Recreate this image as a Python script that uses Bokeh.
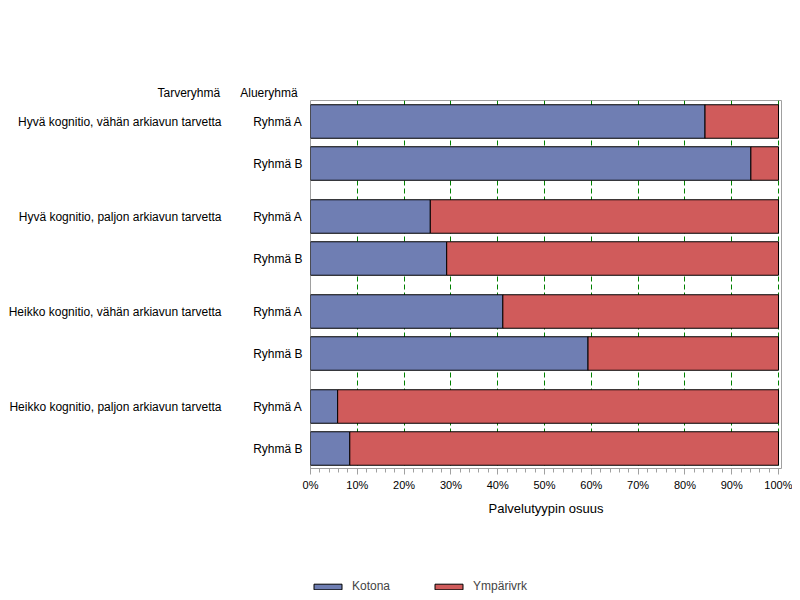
from bokeh.plotting import figure
from bokeh.layouts import column
from bokeh.models import (Range1d, FixedTicker, PrintfTickFormatter, LinearAxis, Title,
                          ColumnDataSource, Legend, LegendItem)
from bokeh.embed import file_html
from bokeh.resources import INLINE

# ---- data ----
tarveryhma = ["Hyvä kognitio, vähän arkiavun tarvetta",
              "Hyvä kognitio, paljon arkiavun tarvetta",
              "Heikko kognitio, vähän arkiavun tarvetta",
              "Heikko kognitio, paljon arkiavun tarvetta"]
alueryhma = ["Ryhmä A", "Ryhmä B"]
kotona = [84.3, 94.1, 25.6, 29.1, 41.1, 59.3, 5.8, 8.4]
ymparivrk = [15.7, 5.9, 74.4, 70.9, 58.9, 40.7, 94.2, 91.6]
series = ["Kotona", "Ympärivrk"]
x_ticks = [0, 10, 20, 30, 40, 50, 60, 70, 80, 90, 100]
x_label = "Palvelutyypin osuus"
header_tarve = "Tarveryhmä"
header_alue = "Alueryhmä"

# ---- layout constants ----
FONT = "Liberation Sans"
BLUE = "#6F7EB3"
RED = "#D05B5B"
COLORS = [BLUE, RED]
GRAY = "#A0A0A0"
FRAME_H = 368
GROUP_STEP = 95
SUB_STEP = 42
FIRST = 21
BAR_H = 33.5

ys, alue_over, tarve_over = [], {}, {}
for g, t in enumerate(tarveryhma):
    for i, a in enumerate(alueryhma):
        y = FIRST + g * GROUP_STEP + i * SUB_STEP
        ys.append(y)
        alue_over[y] = a
        if i == 0:
            tarve_over[y] = t

source = ColumnDataSource(dict(y=ys, Kotona=kotona, Ympärivrk=ymparivrk))

p = figure(width=792, height=530, output_backend="svg", toolbar_location=None,
           frame_width=471, frame_height=FRAME_H,
           min_border_left=310, min_border_right=11, min_border_top=100, min_border_bottom=62,
           x_range=Range1d(0, 100 * 471 / 468), y_range=Range1d(FRAME_H, 0))
p.outline_line_color = GRAY
p.background_fill_color = "white"
p.border_fill_color = "white"

p.hbar_stack(series, y="y", height=BAR_H, source=source,
             fill_color=COLORS, line_color="black", line_width=1)

# x axis
xa = p.xaxis[0]
xa.ticker = FixedTicker(ticks=x_ticks, minor_ticks=list(range(0, 101, 2)))
xa.formatter = PrintfTickFormatter(format="%d%%")
xa.bounds = (0, 100)
xa.axis_line_color = GRAY
xa.major_tick_line_color = GRAY
xa.minor_tick_line_color = GRAY
xa.major_tick_out = 6
xa.major_tick_in = 0
xa.minor_tick_out = 4
xa.minor_tick_in = 0
xa.major_label_text_font = FONT
xa.major_label_text_font_size = "11px"
xa.major_label_text_color = "black"
xa.major_label_standoff = 4
xa.axis_label = x_label
xa.axis_label_text_font = FONT
xa.axis_label_text_font_size = "13px"
xa.axis_label_text_font_style = "normal"
xa.axis_label_text_color = "black"
xa.axis_label_standoff = 7


def style_y(ax, standoff):
    ax.axis_line_color = None
    ax.major_tick_line_color = None
    ax.minor_tick_line_color = None
    ax.major_tick_out = 0
    ax.major_tick_in = 0
    ax.minor_tick_out = 0
    ax.minor_tick_in = 0
    ax.major_label_standoff = standoff
    ax.major_label_text_font = FONT
    ax.major_label_text_font_size = "12px"
    ax.major_label_text_color = "black"


ya = p.yaxis[0]
ya.ticker = FixedTicker(ticks=list(alue_over.keys()), minor_ticks=[])
ya.major_label_overrides = alue_over
style_y(ya, 8)

ya2 = LinearAxis(ticker=FixedTicker(ticks=list(tarve_over.keys()), minor_ticks=[]),
                 major_label_overrides=tarve_over)
style_y(ya2, 29)
p.add_layout(ya2, "left")

p.ygrid.visible = False
p.xgrid.ticker = FixedTicker(ticks=x_ticks[1:])
p.xgrid.grid_line_color = "green"
p.xgrid.grid_line_dash = "5 3"
p.xgrid.grid_line_width = 1

# column headers
p.add_layout(Title(text=header_tarve + "\u2007\u2007\u2007" + header_alue, align="left",
                   offset=-153, standoff=2, text_font=FONT, text_font_size="12px",
                   text_font_style="normal", text_color="black"), "above")

# ---- legend strip below the chart ----
lg = figure(width=792, height=66, output_backend="svg", toolbar_location=None,
            min_border_left=0, min_border_right=0, min_border_top=0, min_border_bottom=0,
            x_range=Range1d(0, 1), y_range=Range1d(0, 1))
lg.axis.visible = False
lg.grid.visible = False
lg.outline_line_color = None
lg.border_fill_color = "white"
items = []
for s, c in zip(series, COLORS):
    # off-range placeholder bar, only used to draw the legend swatch
    r = lg.hbar(y=[-10], right=[1], height=1, fill_color=c, line_color="black", line_width=1)
    items.append(LegendItem(label=s, renderers=[r]))
legend = Legend(items=items, orientation="horizontal", location=(0, 3),
                glyph_width=35, glyph_height=7, label_height=12, label_standoff=7,
                spacing=41, padding=0, margin=0,
                border_line_color=None, background_fill_alpha=0,
                label_text_font=FONT, label_text_font_size="12px")
lg.add_layout(legend)

layout = column(p, lg, spacing=0)
open("out.html", "w").write(file_html(layout, INLINE))
